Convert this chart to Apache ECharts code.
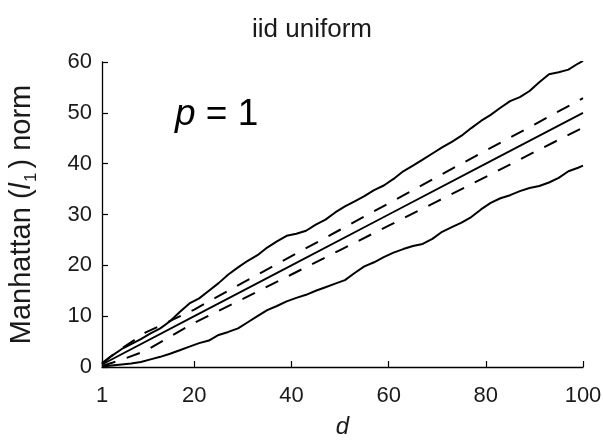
<!DOCTYPE html>
<html>
<head>
<meta charset="utf-8">
<script src="https://cdn.jsdelivr.net/npm/echarts@6/dist/echarts.min.js"></script>
<style>
html,body{margin:0;padding:0;background:#fff;}
#c{width:603px;height:441px;}
</style>
</head>
<body>
<div id="c"></div>
<script>
// ---- data ----
var dValues = [1,3,5,7,9,11,13,15,17,19,21,23,25,27,29,31,33,35,37,39,41,43,45,47,49,51,53,55,57,59,61,63,65,67,69,71,73,75,77,79,81,83,85,87,89,91,93,95,97,99,100];
var upperValues = [0.6,2.2,3.5,4.5,5.5,6.6,7.6,9.0,10.8,12.5,13.5,15.0,16.5,18.2,19.6,20.9,22.0,23.5,24.7,25.8,26.2,26.8,28.0,29.0,30.4,31.6,32.6,33.6,34.8,35.7,37.0,38.5,39.6,40.8,42.0,43.2,44.3,45.5,47.0,48.4,49.6,51.0,52.3,53.1,54.3,56.0,57.6,58.0,58.5,59.7,60.2];
var lowerValues = [0.1,0.3,0.5,0.7,1.0,1.5,2.0,2.6,3.3,4.0,4.7,5.2,6.3,6.9,7.6,8.8,10.0,11.2,12.0,12.9,13.6,14.2,15.0,15.7,16.4,17.1,18.5,19.8,20.6,21.6,22.5,23.2,23.8,24.2,25.2,26.6,27.5,28.4,29.5,31.0,32.3,33.2,33.8,34.6,35.2,35.6,36.3,37.2,38.5,39.2,39.6];
var meanD = [1,20,40,60,80,100];
var meanValues = [0.5,10,20,30,40,50];
var bandD = [1,5,10,20,30,40,50,60,70,80,90,100];
var bandUpperValues = [0.8,3.6,6.8,11.3,16.6,21.8,27.0,32.2,37.4,42.6,47.7,52.9];
var bandLowerValues = [0.2,1.4,3.2,8.7,13.4,18.2,23.0,27.8,32.6,37.4,42.3,47.1];
var xTickValues = [1,20,40,60,80,100];
var titleText = 'iid uniform';
var xAxisName = 'd';

function pairs(xs, ys){ return xs.map(function(x,i){ return [x, ys[i]]; }); }

var FONT = 'Liberation Sans, Arial, Helvetica, sans-serif';
var chart = echarts.init(document.getElementById('c'), null, {renderer:'canvas'});
var lineBase = {type:'line', showSymbol:false, symbol:'none', smooth:false, silent:true, animation:false};
chart.setOption({
  backgroundColor:'#ffffff',
  animation:false,
  title:{
    text:titleText, left:307, top:12, textAlign:'center',
    textStyle:{fontFamily:FONT, fontSize:26, fontWeight:'normal', color:'#1a1a1a'}
  },
  grid:{left:102, right:20, top:62, bottom:74, containLabel:false, outerBoundsMode:'none'},
  xAxis:{
    type:'value', min:1, max:100,
    name:xAxisName, nameLocation:'middle', nameGap:48,
    nameTextStyle:{fontFamily:FONT, fontSize:24, fontStyle:'italic', color:'#1a1a1a'},
    axisLine:{show:true, lineStyle:{color:'#000', width:1.3}},
    axisTick:{show:true, inside:true, length:6, customValues:xTickValues, lineStyle:{color:'#000', width:1.2}},
    axisLabel:{customValues:xTickValues, margin:18, fontFamily:FONT, fontSize:22, color:'#1a1a1a', showMaxLabel:true, showMinLabel:true},
    splitLine:{show:false}
  },
  yAxis:{
    type:'value', min:0, max:60, interval:10,
    name:'{n|Manhattan (}{it|l}{sub|1}{n|) norm}', nameLocation:'middle', nameGap:62, nameRotate:90,
    nameTextStyle:{
      fontFamily:FONT, fontSize:29, color:'#1a1a1a',
      rich:{
        n:{fontFamily:FONT, fontSize:29, color:'#1a1a1a', verticalAlign:'top', lineHeight:33},
        it:{fontFamily:FONT, fontSize:29, color:'#1a1a1a', fontStyle:'italic', verticalAlign:'top', lineHeight:33},
        sub:{fontFamily:FONT, fontSize:17, color:'#1a1a1a', verticalAlign:'bottom', lineHeight:17, padding:[24,4,0,1]}
      }
    },
    axisLine:{show:true, lineStyle:{color:'#000', width:1.3}},
    axisTick:{show:true, inside:true, length:6, lineStyle:{color:'#000', width:1.2}},
    axisLabel:{margin:10, fontFamily:FONT, fontSize:22, color:'#1a1a1a'},
    splitLine:{show:false}
  },
  graphic:[{
    type:'text', left:175, top:96, silent:true,
    style:{
      text:'{p|p} = 1', fontFamily:FONT, fontSize:37, fill:'#000',
      rich:{p:{fontFamily:FONT, fontSize:37, fontStyle:'italic', fill:'#000'}}
    }
  }],
  series:[
    Object.assign({}, lineBase, {name:'max', data:pairs(dValues, upperValues), lineStyle:{color:'#000', width:2}}),
    Object.assign({}, lineBase, {name:'min', data:pairs(dValues, lowerValues), lineStyle:{color:'#000', width:2}}),
    Object.assign({}, lineBase, {name:'mean', data:pairs(meanD, meanValues), lineStyle:{color:'#000', width:1.8}}),
    Object.assign({}, lineBase, {name:'mean+sd', data:pairs(bandD, bandUpperValues), lineStyle:{color:'#000', width:2, type:[14,12]}}),
    Object.assign({}, lineBase, {name:'mean-sd', data:pairs(bandD, bandLowerValues), lineStyle:{color:'#000', width:2, type:[14,12]}})
  ]
});
</script>
</body>
</html>
